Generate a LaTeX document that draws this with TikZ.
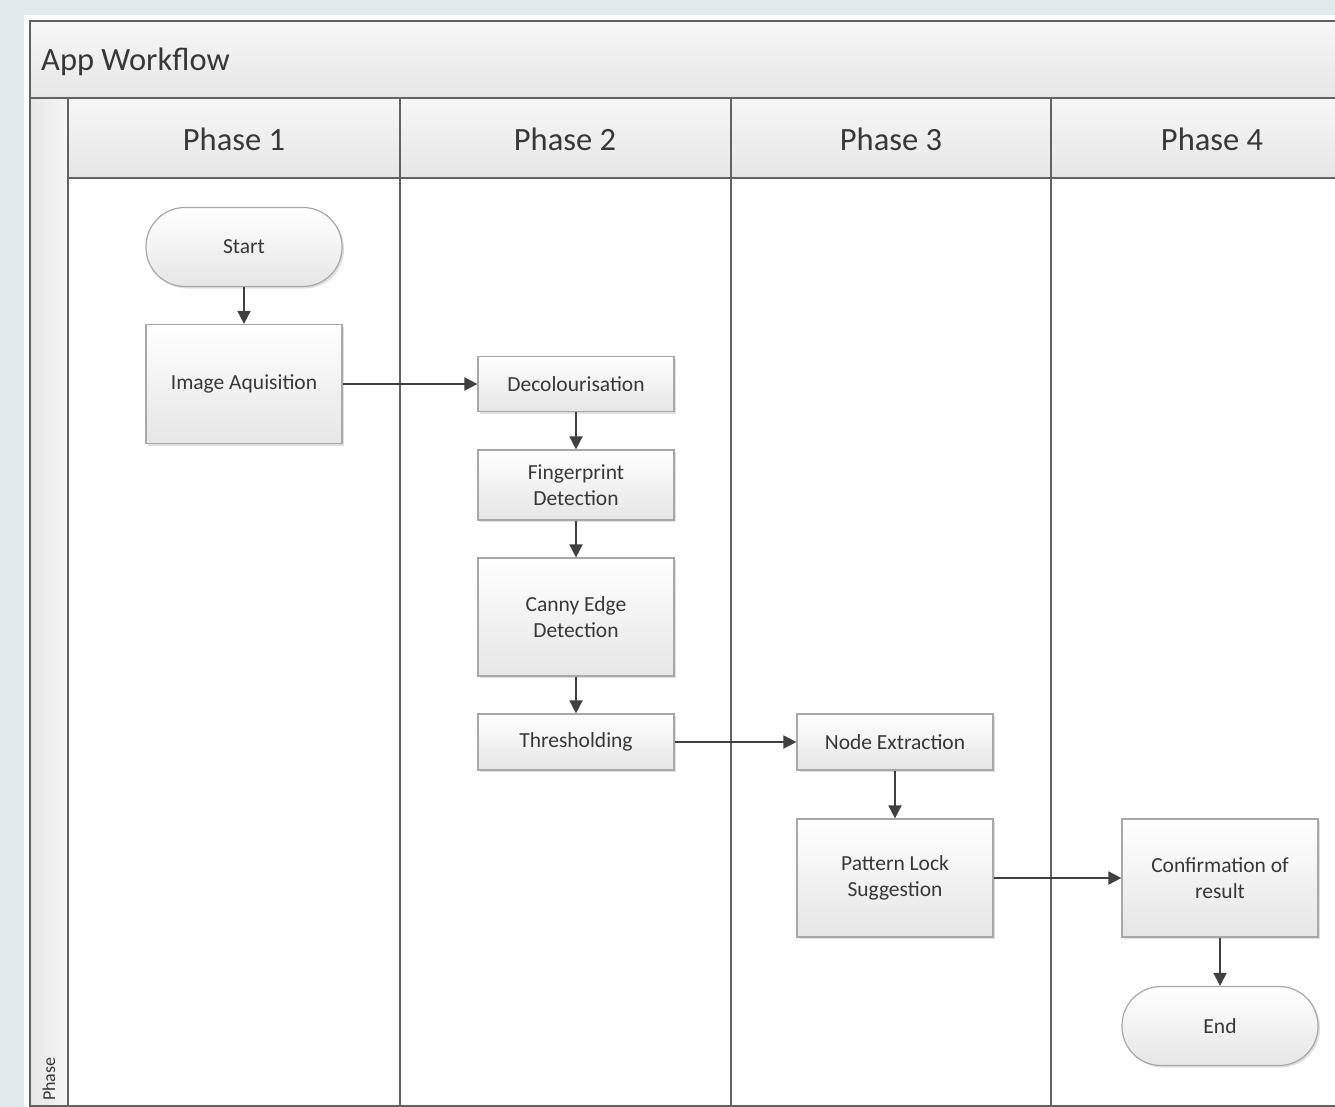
\documentclass[tikz,border=0pt]{standalone}
\usepackage{fontspec}
\setmainfont{Carlito}
\usetikzlibrary{arrows.meta,shadows}
\definecolor{bgblue}{HTML}{E2E9ED}
\definecolor{frameline}{HTML}{626262}
\definecolor{boxline}{HTML}{A8A8A8}
\definecolor{hdtop}{HTML}{F7F7F7}
\definecolor{hdbot}{HTML}{E6E6E6}
\definecolor{txt}{HTML}{383838}
\definecolor{arrowc}{HTML}{404040}
\tikzset{
  box/.style={draw=boxline, line width=1.2pt, top color=white, bottom color=hdbot,
    minimum width=196pt, align=center, text=txt, font=\fontsize{21.5}{26}\selectfont,
    drop shadow={shadow xshift=2pt, shadow yshift=-2pt, fill=black, opacity=0.12}},
  term/.style={box, rounded corners=39pt, minimum height=79pt},
  flow/.style={draw=arrowc, line width=1.8pt, -{Triangle[length=13pt,width=13pt]}},
  frame/.style={draw=frameline, line width=2.8pt},
  hdr/.style={text=txt, font=\fontsize{32.5}{38}\selectfont},
}
\begin{document}
\begin{tikzpicture}[x=1pt,y=-1pt]
\useasboundingbox (0,0) rectangle (1335,1107);
\clip (0,0) rectangle (1335,1107);
\fill[bgblue] (0,0) rectangle (1335,1107);
\fill[white] (24,15) rectangle (1340,1110);
% title band
\shade[top color=hdtop, bottom color=hdbot] (30,21) rectangle (1345,98);
% header band
\shade[top color=hdtop, bottom color=hdbot] (68,98) rectangle (1345,178);
% left strip
\shade[left color=hdbot, right color=hdtop] (30,98) rectangle (68,1106);
% frame lines
\draw[frame] (1345,21) -- (30,21) -- (30,1106) -- (1345,1106);
\draw[frame] (30,98) -- (1345,98);
\draw[frame] (68,178) -- (1345,178);
\draw[frame] (68,98) -- (68,1106);
\draw[frame] (400,98) -- (400,1106);
\draw[frame] (731,98) -- (731,1106);
\draw[frame] (1051,98) -- (1051,1106);
% labels
\node[hdr, anchor=west, inner sep=0pt] (title) at (41,62) {App Workflow};
\node[hdr] (ph1) at (234,139) {Phase 1};
\node[hdr] (ph2) at (565,139) {Phase 2};
\node[hdr] (ph3) at (891,139) {Phase 3};
\node[hdr] (ph4) at (1212,139) {Phase 4};
\node[text=txt, font=\fontsize{18}{20}\selectfont, rotate=90, anchor=west, inner sep=0pt] (phase) at (49,1101) {Phase};
% nodes
\node[term] (start) at (244,247) {Start};
\node[box, minimum height=119pt] (img) at (244,384) {Image Aquisition};
\node[box, minimum height=55pt] (dec) at (576,384) {Decolourisation};
\node[box, minimum height=70pt] (fin) at (576,485) {Fingerprint\\Detection};
\node[box, minimum height=118pt] (can) at (576,617) {Canny Edge\\Detection};
\node[box, minimum height=56pt] (thr) at (576,742) {Thresholding};
\node[box, minimum height=56pt] (nod) at (895,742) {Node Extraction};
\node[box, minimum height=118pt] (pat) at (895,878) {Pattern Lock\\Suggestion};
\node[box, minimum height=118pt] (con) at (1220,878) {Confirmation of\\result};
\node[term] (end) at (1220,1026) {End};
% connectors
\draw[flow] (start) -- (img);
\draw[flow] (img) -- (dec);
\draw[flow] (dec) -- (fin);
\draw[flow] (fin) -- (can);
\draw[flow] (can) -- (thr);
\draw[flow] (thr) -- (nod);
\draw[flow] (nod) -- (pat);
\draw[flow] (pat) -- (con);
\draw[flow] (con) -- (end);
\end{tikzpicture}
\end{document}
